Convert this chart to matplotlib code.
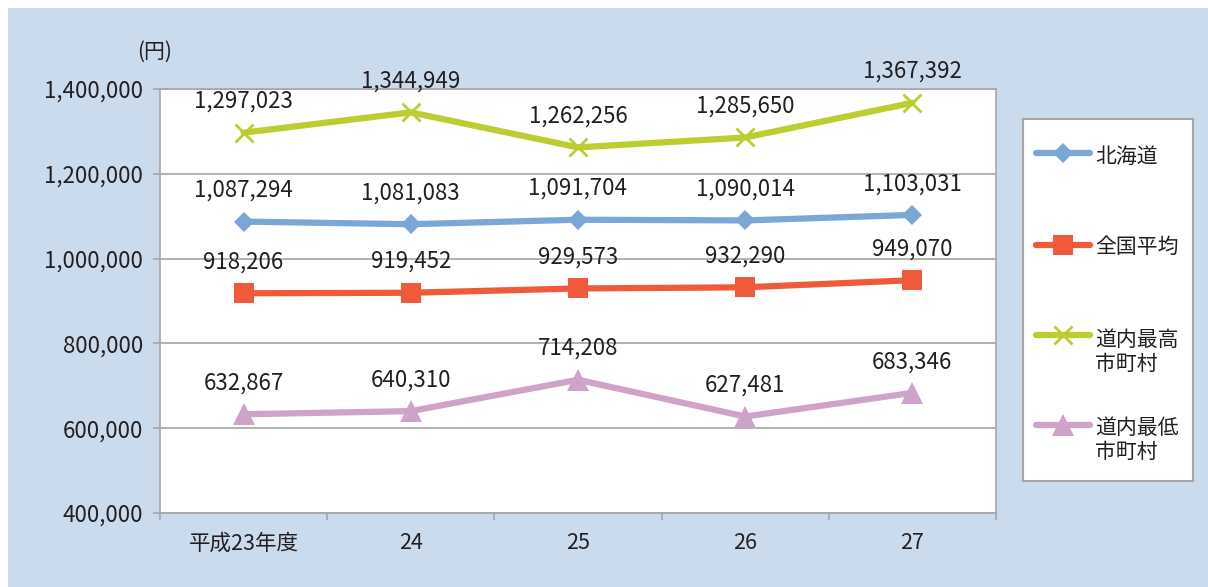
import matplotlib
matplotlib.use("Agg")
import matplotlib.pyplot as plt
from matplotlib.patches import Rectangle
from matplotlib.ticker import FixedLocator, StrMethodFormatter

plt.rcParams['font.family'] = ['Noto Sans CJK JP', 'DejaVu Sans']

# data
years = ['平成23年度', '24', '25', '26', '27']
hokkaido = [1087294, 1081083, 1091704, 1090014, 1103031]
national = [918206, 919452, 929573, 932290, 949070]
dounai_max = [1297023, 1344949, 1262256, 1285650, 1367392]
dounai_min = [632867, 640310, 714208, 627481, 683346]

series = [
    ('北海道', hokkaido, '#7ba7d8', 'D', 10.5),
    ('全国平均', national, '#ef5a3b', 's', 15),
    ('道内最高\n市町村', dounai_max, '#bccd30', 'x', 13),
    ('道内最低\n市町村', dounai_min, '#cea3c7', '^', 16),
]

W, H = 1208, 587
fig = plt.figure(figsize=(W / 100, H / 100), dpi=100, facecolor='white')
fig.add_artist(Rectangle((8 / W, 0), 1 - 8 / W, (H - 8) / H, transform=fig.transFigure,
                         facecolor='#cbdbee', edgecolor='none', zorder=-10))

ax = fig.add_axes([160 / W, 1 - 513 / H, (996 - 160) / W, (513 - 89) / H])
ax.set_facecolor('white')
x = list(range(len(years)))

for name, vals, col, mk, ms in series:
    mew = 2 if mk == 'x' else 0
    ax.plot(x, vals, color=col, lw=4.5, marker=mk, markersize=ms,
            markeredgewidth=mew, markeredgecolor=col, zorder=3, solid_capstyle='round')
    for xi, v in zip(x, vals):
        ax.annotate(f'{v:,}', (xi, v), xytext=(0, 22.5), textcoords='offset points',
                    ha='center', va='center', fontsize=16, color='#231f20', zorder=4)

ax.set_xlim(-0.5, len(years) - 0.5)
ax.set_ylim(400000, 1400000)
ax.set_yticks(range(400000, 1400001, 200000))
ax.yaxis.set_major_formatter(StrMethodFormatter('{x:,.0f}'))
ax.grid(axis='y', color='#a6a6a6', lw=1.2)
ax.set_axisbelow(True)

ax.set_xticks(x)
ax.set_xticklabels(years)
ax.xaxis.set_minor_locator(FixedLocator([i - 0.5 for i in range(len(years) + 1)]))
ax.tick_params(axis='x', which='major', length=0, pad=14, labelsize=15.5, labelcolor='#231f20')
ax.tick_params(axis='x', which='minor', length=5, width=1.2, color='#a6a6a6', direction='out')
ax.tick_params(axis='y', length=5, width=1.2, color='#a6a6a6', pad=7,
               labelsize=16, labelcolor='#231f20')
for s in ax.spines.values():
    s.set_color('#a6a6a6')
    s.set_linewidth(1.2)

fig.text(155 / W, 1 - 52 / H, '(円)', ha='center', va='center', fontsize=15, color='#231f20')

# legend box drawn in its own pixel-scaled axes
lg = fig.add_axes([1023 / W, 1 - 481 / H, 170 / W, 362 / H])
lg.set_xlim(0, 170)
lg.set_ylim(362, 0)
lg.set_xticks([])
lg.set_yticks([])
lg.set_facecolor('white')
for s in lg.spines.values():
    s.set_color('#a6a6a6')
    s.set_linewidth(1.5)

hy = [34, 126, 216, 306]
ty = [38, 128, 233, 321]
for (name, vals, col, mk, ms), yh, yt in zip(series, hy, ty):
    mew = 2 if mk == 'x' else 0
    lg.plot([13, 67], [yh, yh], color=col, lw=4.5, solid_capstyle='round')
    lg.plot([40], [yh], color=col, marker=mk, markersize=ms, markeredgewidth=mew,
            markeredgecolor=col)
    lg.text(72, yt, name, ha='left', va='center', fontsize=15, color='#231f20',
            linespacing=1.15)

fig.savefig('out.png', dpi=100, facecolor='white')
